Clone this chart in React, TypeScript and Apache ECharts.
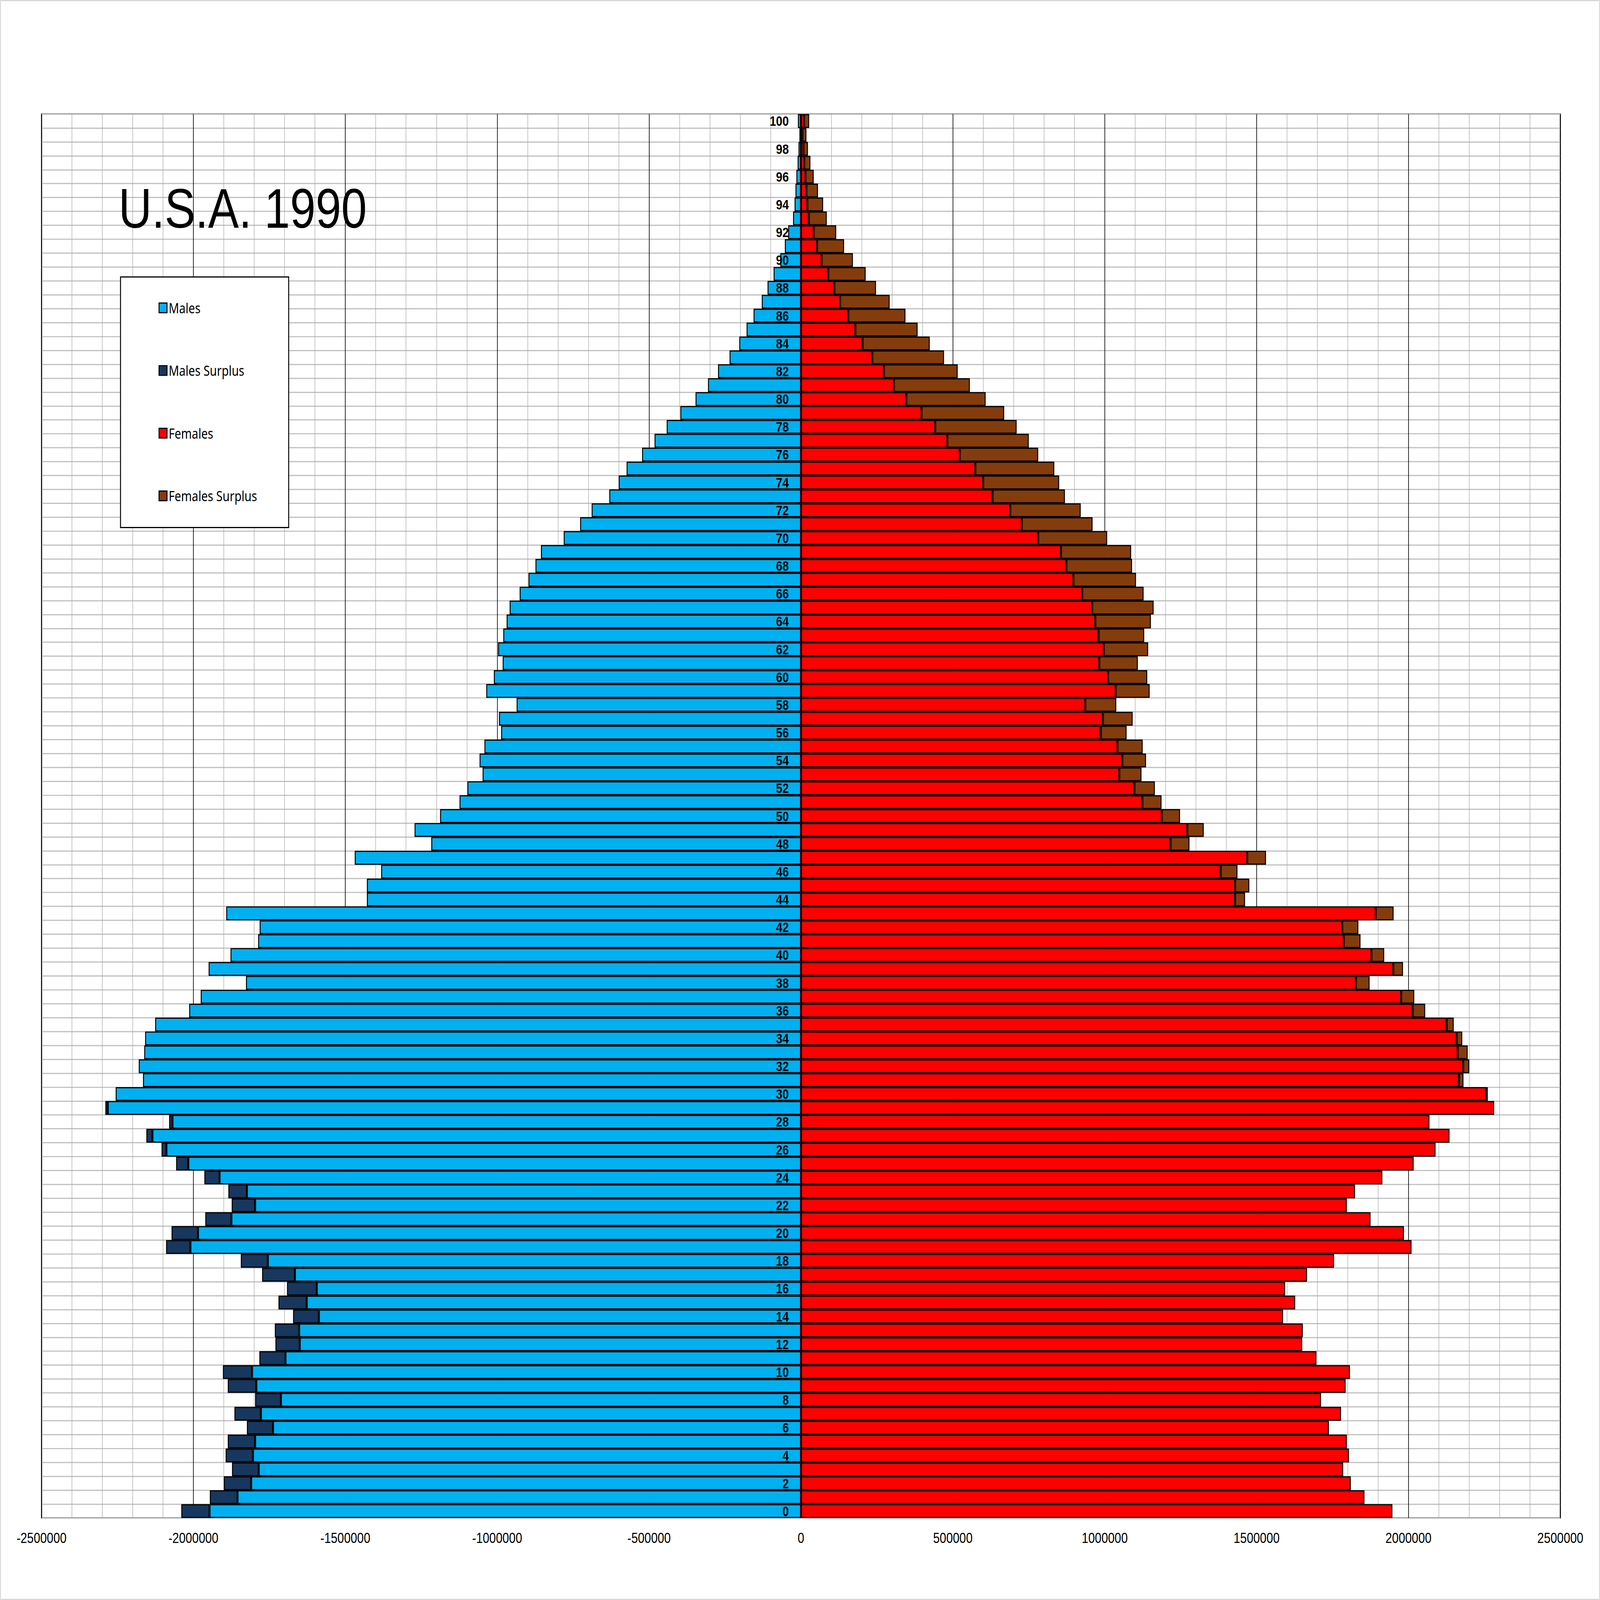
import { useEffect, useRef, useState } from "react";
import * as echarts from "echarts";

// age groups 0..100 (persons)
const AGES: string[] = Array.from({ length: 101 }, (_, i) => String(i));

const MALES: number[] = [
  2040000, 1946000, 1900000, 1873000, 1894000, 1887000, 1824000, 1865000, 1797000, 1887000,
  1903000, 1783000, 1730000, 1732000, 1672000, 1720000, 1692000, 1774000, 1844000, 2090000,
  2072000, 1961000, 1874000, 1885000, 1964000, 2057000, 2105000, 2155000, 2080000, 2290000,
  2256000, 2166000, 2180000, 2162000, 2159000, 2126000, 2014000, 1976000, 1827000, 1950000,
  1878000, 1787000, 1782000, 1892000, 1429000, 1429000, 1382000, 1469000, 1217000, 1272000,
  1188000, 1124000, 1098000, 1048000, 1058000, 1042000, 987000, 994000, 936000, 1036000,
  1011000, 982000, 997000, 980000, 969000, 959000, 926000, 897000, 874000, 856000,
  781000, 727000, 689000, 631000, 600000, 574000, 523000, 482000, 442000, 397000,
  347000, 306000, 273000, 235000, 203000, 179000, 156000, 129000, 110000, 90000,
  68000, 53000, 42000, 26000, 21000, 18000, 15000, 11000, 8000, 5000,
  10000,
];

const FEMALES: number[] = [
  1947000, 1855000, 1810000, 1785000, 1804000, 1797000, 1738000, 1778000, 1712000, 1793000,
  1807000, 1697000, 1650000, 1652000, 1587000, 1627000, 1594000, 1666000, 1755000, 2010000,
  1985000, 1875000, 1797000, 1824000, 1914000, 2017000, 2089000, 2135000, 2069000, 2282000,
  2261000, 2181000, 2200000, 2195000, 2177000, 2149000, 2055000, 2019000, 1872000, 1982000,
  1920000, 1842000, 1835000, 1951000, 1462000, 1476000, 1437000, 1531000, 1279000, 1326000,
  1248000, 1187000, 1165000, 1121000, 1136000, 1125000, 1072000, 1092000, 1038000, 1148000,
  1140000, 1109000, 1143000, 1130000, 1152000, 1161000, 1128000, 1103000, 1090000, 1087000,
  1008000, 960000, 921000, 869000, 850000, 834000, 781000, 750000, 710000, 669000,
  608000, 556000, 516000, 471000, 424000, 384000, 344000, 292000, 247000, 213000,
  171000, 142000, 116000, 85000, 73000, 56000, 42000, 31000, 23000, 18000,
  27000,
];

const SERIES_NAMES = ["Males", "Males Surplus", "Females", "Females Surplus"];
const COLORS = ["#00B0F0", "#17375E", "#FF0000", "#843C0C"];

const X_MIN = -2500000;
const X_MAX = 2500000;
const X_STEP = 500000;

// drawn at the reference size, then fitted to the real window
const W = 5005;
const H = 4137;
const GRID = { left: 130, right: 124, top: 295, bottom: 212 };

export default function App() {
  const ref = useRef<HTMLDivElement>(null);
  const [fit, setFit] = useState({ sx: 1, sy: 1 });

  useEffect(() => {
    document.body.style.margin = "0";
    document.body.style.overflow = "hidden";
    setFit({
      sx: Math.min(1, window.innerWidth / W),
      sy: Math.min(1, window.innerHeight / H),
    });
  }, []);

  useEffect(() => {
    if (!ref.current) return;
    const chart = echarts.init(ref.current, undefined, { renderer: "svg" });

    // common part drawn in the base colour, the difference as "surplus"
    const common = MALES.map((m, i) => Math.min(m, FEMALES[i]));
    const mSurplus = MALES.map((m, i) => (m > FEMALES[i] ? m - FEMALES[i] : null));
    const fSurplus = FEMALES.map((f, i) => (f > MALES[i] ? f - MALES[i] : null));

    const bar = (name: string, color: string, stack: string, data: (number | null)[]) => ({
      name,
      type: "bar",
      stack,
      data,
      barCategoryGap: "0%",
      barGap: "-100%",
      itemStyle: { color, borderColor: "#000", borderWidth: 3 },
      emphasis: { disabled: true },
    });

    // the age labels sit on the x = 0 line: shift the left axis into the grid
    const plotW = W - GRID.left - GRID.right;
    const zeroOffset = -plotW / 2;

    chart.setOption({
      animation: false,
      backgroundColor: "#fff",
      textStyle: { fontFamily: "Liberation Sans" },
      title: {
        text: "U.S.A. 1990",
        left: 366,
        top: 462,
        textStyle: { fontSize: 144, fontWeight: "normal", color: "#000", fontFamily: "Liberation Sans" },
      },
      legend: {
        data: SERIES_NAMES,
        orient: "vertical",
        left: 496,
        top: 778,
        padding: 0,
        itemGap: 126,
        itemWidth: 25,
        itemHeight: 25,
        icon: "rect",
        selectedMode: false,
        z: 20,
        itemStyle: { borderColor: "#000", borderWidth: 3 },
        textStyle: { fontSize: 36, lineHeight: 36, color: "#000", fontFamily: "Noto Sans" },
      },
      graphic: [
        {
          type: "rect",
          z: 15,
          shape: { x: 377, y: 716, width: 526, height: 648 },
          style: { fill: "#fff", stroke: "#000", lineWidth: 3 },
        },
        {
          type: "rect",
          z: 30,
          silent: true,
          shape: { x: 1.5, y: 1.5, width: W - 3, height: H - 3 },
          style: { fill: "none", stroke: "#d9d9d9", lineWidth: 3 },
        },
      ],
      grid: {
        ...GRID,
        show: true,
        borderColor: "#000",
        borderWidth: 3,
        backgroundColor: "transparent",
      },
      xAxis: {
        type: "value",
        min: X_MIN,
        max: X_MAX,
        interval: X_STEP,
        axisLine: { show: false },
        axisTick: { show: false },
        axisLabel: {
          fontSize: 37,
          color: "#000",
          margin: 33,
          formatter: (v: number) => String(v),
        },
        splitLine: { show: true, lineStyle: { color: "#000", width: 2 } },
        minorTick: { show: false, splitNumber: 5 },
        minorSplitLine: { show: true, lineStyle: { color: "#a6a6a6", width: 1.5 } },
      },
      yAxis: [
        {
          // labels, drawn above the bars at x = 0
          type: "category",
          data: AGES,
          z: 10,
          offset: zeroOffset,
          axisLine: { show: false, onZero: false },
          axisTick: { show: false },
          axisLabel: {
            interval: 1,
            fontSize: 36,
            fontWeight: "bold",
            color: "#000",
            margin: 38,
          },
          splitLine: { show: false },
        },
        {
          // row grid lines, below the bars
          type: "category",
          data: AGES,
          axisLine: { show: false, onZero: false },
          axisTick: { show: false },
          axisLabel: { show: false },
          splitLine: { show: true, interval: 0, lineStyle: { color: "#c0c0c0", width: 3 } },
        },
      ],
      series: [
        bar(SERIES_NAMES[0], COLORS[0], "m", common.map((v) => -v)),
        bar(SERIES_NAMES[1], COLORS[1], "m", mSurplus.map((v) => (v == null ? null : -v))),
        bar(SERIES_NAMES[2], COLORS[2], "f", common),
        bar(SERIES_NAMES[3], COLORS[3], "f", fSurplus),
      ],
    });

    return () => chart.dispose();
  }, []);

  return (
    <div
      ref={ref}
      style={{
        width: W,
        height: H,
        transformOrigin: "0 0",
        transform: `scale(${fit.sx}, ${fit.sy})`,
      }}
    />
  );
}
